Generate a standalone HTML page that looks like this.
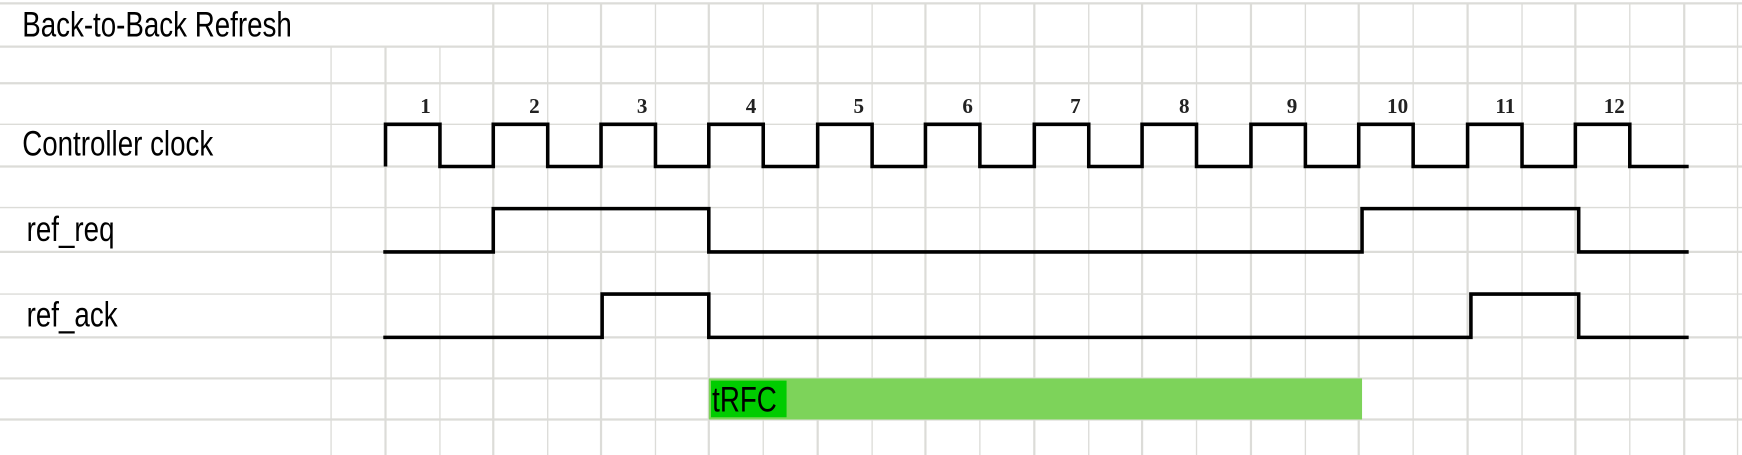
<!DOCTYPE html>
<html><head><meta charset="utf-8"><style>
html,body{margin:0;padding:0;background:#fff;}
svg{display:block;}
</style></head><body>
<svg width="1742" height="455" viewBox="0 0 1568 410" preserveAspectRatio="none" xmlns="http://www.w3.org/2000/svg">
<g stroke="#dcdcd8" stroke-width="2">
<line x1="0" y1="3" x2="1568" y2="3"/>
<line x1="0" y1="42" x2="1568" y2="42"/>
<line x1="0" y1="75" x2="1568" y2="75"/>
<line x1="0" y1="112" x2="1568" y2="112" stroke-width="1.2"/>
<line x1="0" y1="150" x2="1568" y2="150"/>
<line x1="0" y1="187" x2="1568" y2="187" stroke-width="1.2"/>
<line x1="0" y1="227" x2="1568" y2="227"/>
<line x1="0" y1="265" x2="1568" y2="265" stroke-width="1.2"/>
<line x1="0" y1="304" x2="1568" y2="304"/>
<line x1="0" y1="341" x2="1568" y2="341"/>
<line x1="0" y1="378" x2="1568" y2="378"/>
<line x1="298" y1="42" x2="298" y2="410" stroke-width="1.2"/>
<line x1="347" y1="42" x2="347" y2="410"/>
<line x1="396" y1="42" x2="396" y2="410" stroke-width="1.2"/>
<line x1="444" y1="3" x2="444" y2="410"/>
<line x1="493" y1="3" x2="493" y2="410" stroke-width="1.2"/>
<line x1="541" y1="3" x2="541" y2="410"/>
<line x1="590" y1="3" x2="590" y2="410" stroke-width="1.2"/>
<line x1="638" y1="3" x2="638" y2="410"/>
<line x1="687" y1="3" x2="687" y2="410" stroke-width="1.2"/>
<line x1="736" y1="3" x2="736" y2="410"/>
<line x1="785" y1="3" x2="785" y2="410" stroke-width="1.2"/>
<line x1="833" y1="3" x2="833" y2="410"/>
<line x1="882" y1="3" x2="882" y2="410" stroke-width="1.2"/>
<line x1="931" y1="3" x2="931" y2="410"/>
<line x1="980" y1="3" x2="980" y2="410" stroke-width="1.2"/>
<line x1="1028" y1="3" x2="1028" y2="410"/>
<line x1="1077" y1="3" x2="1077" y2="410" stroke-width="1.2"/>
<line x1="1126" y1="3" x2="1126" y2="410"/>
<line x1="1175" y1="3" x2="1175" y2="410" stroke-width="1.2"/>
<line x1="1223" y1="3" x2="1223" y2="410"/>
<line x1="1272" y1="3" x2="1272" y2="410" stroke-width="1.2"/>
<line x1="1321" y1="3" x2="1321" y2="410"/>
<line x1="1370" y1="3" x2="1370" y2="410" stroke-width="1.2"/>
<line x1="1418" y1="3" x2="1418" y2="410"/>
<line x1="1467" y1="3" x2="1467" y2="410" stroke-width="1.2"/>
<line x1="1516" y1="3" x2="1516" y2="410"/>
<line x1="1564" y1="3" x2="1564" y2="410" stroke-width="1.2"/>
</g>
<rect x="638" y="341" width="588" height="37" fill="#7dd35a"/>
<rect x="640" y="343" width="68" height="33" fill="#00cc00"/>
<g fill="none" stroke="#000" stroke-width="3.2" stroke-linejoin="miter">
<path d="M347,150 V112 H396 V150 H444 V112 H493 V150 H541 V112 H590 V150 H638 V112 H687 V150 H736 V112 H785 V150 H833 V112 H882 V150 H931 V112 H980 V150 H1028 V112 H1077 V150 H1126 V112 H1175 V150 H1223 V112 H1272 V150 H1321 V112 H1370 V150 H1418 V112 H1467 V150 H1520"/>
<path d="M345,227 H444 V188 H638 V227 H1226 V188 H1421 V227 H1520"/>
<path d="M345,304 H542 V265 H638 V304 H1324 V265 H1421 V304 H1520"/>
</g>
<g font-family="Liberation Sans, sans-serif" font-size="32" fill="#000">
<text x="20" y="33" transform="translate(20 0) scale(0.78 1) translate(-20 0)">Back-to-Back Refresh</text>
<text x="20" y="140" transform="translate(20 0) scale(0.78 1) translate(-20 0)">Controller clock</text>
<text x="24" y="217" transform="translate(24 0) scale(0.78 1) translate(-24 0)">ref_req</text>
<text x="24" y="294" transform="translate(24 0) scale(0.78 1) translate(-24 0)">ref_ack</text>
<text x="641" y="371" transform="translate(641 0) scale(0.78 1) translate(-641 0)">tRFC</text>
</g>
<g font-family="Liberation Serif, serif" font-size="19" font-weight="bold" fill="#222" text-anchor="middle">
<text x="383" y="102">1</text><text x="481" y="102">2</text><text x="578" y="102">3</text>
<text x="676" y="102">4</text><text x="773" y="102">5</text><text x="871" y="102">6</text>
<text x="968" y="102">7</text><text x="1066" y="102">8</text><text x="1163" y="102">9</text>
<text x="1258" y="102">10</text><text x="1355" y="102">11</text><text x="1453" y="102">12</text>
</g>
</svg>
</body></html>
